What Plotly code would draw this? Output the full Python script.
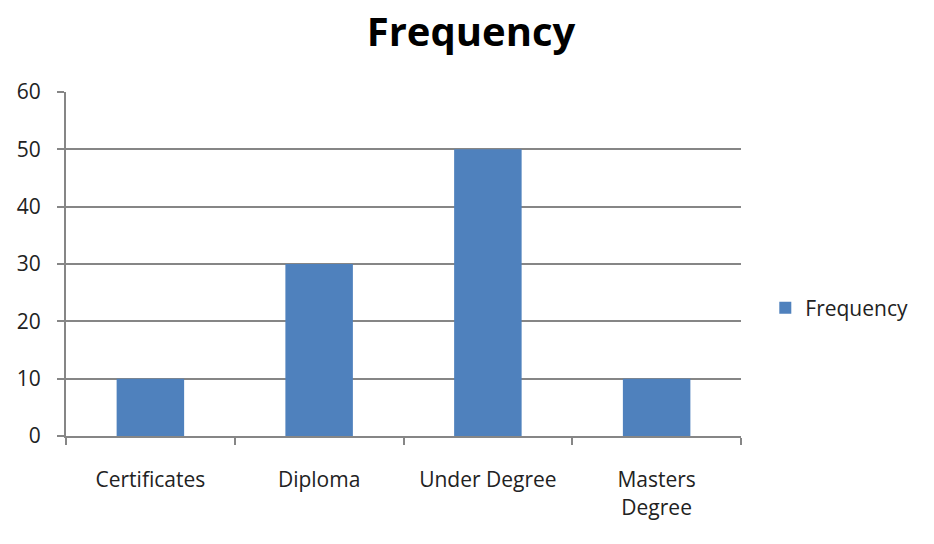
import plotly.graph_objects as go

categories = ["Certificates", "Diploma", "Under Degree", "Masters<br>Degree"]
frequency = [10, 30, 50, 10]
y_ticks = [0, 10, 20, 30, 40, 50, 60]

fig = go.Figure()
fig.add_trace(go.Bar(x=categories, y=frequency, name="Frequency",
                     marker=dict(color="#4F81BD", line=dict(width=0)),
                     showlegend=True))

fig.update_layout(
    width=926, height=536,
    paper_bgcolor="white", plot_bgcolor="white",
    font=dict(family="Open Sans, sans-serif", size=21, color="#222222"),
    title=dict(text="<b>Frequency</b>", x=0.5, xanchor="center", y=0.955, yanchor="middle",
               yref="container", font=dict(size=40, color="#000000")),
    margin=dict(l=58, r=193, t=84, b=108, autoexpand=False),
    bargap=0.6,
    legend=dict(x=1.036, y=0.372, xanchor="left", yanchor="middle",
                font=dict(size=21), bgcolor="rgba(0,0,0,0)"),
    xaxis=dict(showline=True, linecolor="#868686", linewidth=2, automargin=False,
               ticks="outside", tickson="boundaries", ticklen=7, tickcolor="#868686",
               tickwidth=2, showgrid=False, tickfont=dict(size=21), ticklabelstandoff=24),
    yaxis=dict(range=[0, 60], tickvals=y_ticks, showline=True, linecolor="#868686",
               linewidth=2, ticks="outside", ticklen=7, tickcolor="#868686", tickwidth=2,
               showgrid=True, gridcolor="#868686", gridwidth=2, zeroline=False,
               automargin=False, tickfont=dict(size=21), ticklabelstandoff=12),
)
fig.write_html("out.html")
